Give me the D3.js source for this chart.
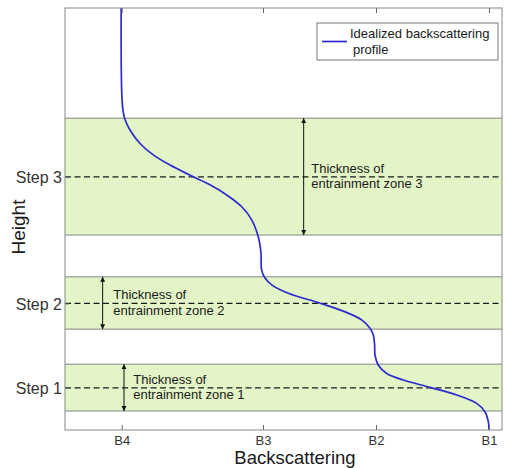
<!DOCTYPE html>
<html><head><meta charset="utf-8">
<script src="https://cdn.jsdelivr.net/npm/d3@7/dist/d3.min.js"></script>
<style>body{margin:0;background:#fff}svg{display:block;font-family:"Liberation Sans",Arial,sans-serif}</style>
</head><body>
<svg id="c" width="506" height="468"></svg>
<script>
// ---- data ----
const xTickLabels = ["B4", "B3", "B2", "B1"];
const xTickValues = [4.25, 3, 2, 1];
const yTickLabels = ["Step 1", "Step 2", "Step 3"];
const stepHeights = [100, 300, 600];
const zoneBottoms = [45, 239, 462];
const zoneTops = [156, 363, 739];
const zoneLabels1 = ["Thickness of", "Thickness of", "Thickness of"];
const zoneLabels2 = ["entrainment zone 1", "entrainment zone 2", "entrainment zone 3"];
const profileH = [1000, 900, 800, 760, 739, 711, 679, 652, 628, 602, 581, 557, 529, 498, 458, 420, 379, 360, 344, 324, 302, 280, 261, 241, 225, 200, 178, 154, 134, 118.5, 101, 83, 63, 43, 20, 0];
const profileB = [4.255, 4.255, 4.25, 4.24, 4.225, 4.177, 4.088, 3.971, 3.823, 3.631, 3.469, 3.321, 3.188, 3.10, 3.042, 3.018, 3.012, 2.982, 2.923, 2.776, 2.511, 2.274, 2.127, 2.053, 2.024, 2.012, 2.009, 1.98, 1.905, 1.758, 1.522, 1.286, 1.109, 1.035, 1.006, 1.0];
const legendLabel = ["Idealized backscattering", "profile"];
// annotation placement (data units)
const arrowB = [4.23, 4.419, 2.64];
const labelB = [4.148, 4.325, 2.573];

const svg = d3.select("#c");
const L = 65, T = 8, R = 502, B = 430;
const x = d3.scaleLinear().domain([4.752, 0.885]).range([L, R]);
const y = d3.scaleLinear().domain([0, 1000]).range([B, T]);

svg.append("rect").attr("width", 506).attr("height", 468).attr("fill", "#fff");

// bands
const zones = zoneBottoms.map((b, i) => ({b, t: zoneTops[i], s: stepHeights[i], i}));
svg.selectAll("rect.band").data(zones).join("rect").attr("class", "band")
  .attr("x", L).attr("width", R - L)
  .attr("y", d => y(d.t)).attr("height", d => y(d.b) - y(d.t))
  .attr("fill", "#e3f5c6");
zones.forEach(z => {
  [z.b, z.t].forEach(v => {
    svg.append("line").attr("x1", L).attr("x2", R).attr("y1", y(v)).attr("y2", y(v))
      .attr("stroke", "#858585").attr("stroke-width", 1);
  });
  svg.append("line").attr("x1", L).attr("x2", R).attr("y1", y(z.s)).attr("y2", y(z.s))
    .attr("stroke", "#1a1a1a").attr("stroke-width", 1.3).attr("stroke-dasharray", "6,3.5");
});

// arrows
const defs = svg.append("defs");
defs.append("marker").attr("id", "ah").attr("viewBox", "0 0 10 10").attr("refX", 10).attr("refY", 5)
  .attr("markerWidth", 5).attr("markerHeight", 7).attr("markerUnits", "userSpaceOnUse").attr("orient", "auto-start-reverse")
  .append("path").attr("d", "M0,0 L10,5 L0,10 Z").attr("fill", "#111");
zones.forEach((z, i) => {
  svg.append("line").attr("x1", x(arrowB[i])).attr("x2", x(arrowB[i]))
    .attr("y1", y(z.t)).attr("y2", y(z.b))
    .attr("stroke", "#111").attr("stroke-width", 1)
    .attr("marker-start", "url(#ah)").attr("marker-end", "url(#ah)");
  const tx = svg.append("text").attr("x", x(labelB[i])).attr("y", y(z.s) - 4)
    .attr("font-size", 13).attr("fill", "#1a1a1a");
  tx.append("tspan").attr("x", x(labelB[i])).text(zoneLabels1[i]);
  tx.append("tspan").attr("x", x(labelB[i])).attr("dy", 15.5).text(zoneLabels2[i]);
});

// profile curve
const pts = profileH.map((h, i) => [profileB[i], h]);
svg.append("path").datum(pts)
  .attr("d", d3.line().x(d => x(d[0])).y(d => y(d[1])).curve(d3.curveCatmullRom.alpha(0.5)))
  .attr("fill", "none").attr("stroke", "#2b2bd0").attr("stroke-width", 1.7);

// axes
const gx = svg.append("g").attr("transform", `translate(0,${B})`)
  .call(d3.axisBottom(x).tickValues(xTickValues).tickFormat((d, i) => xTickLabels[i]).tickSize(-5).tickPadding(6));
const gxt = svg.append("g").attr("transform", `translate(0,${T})`)
  .call(d3.axisTop(x).tickValues(xTickValues).tickFormat("").tickSize(-5));
const gy = svg.append("g").attr("transform", `translate(${L},0)`)
  .call(d3.axisLeft(y).tickValues(stepHeights).tickFormat((d, i) => yTickLabels[i]).tickSize(-4).tickPadding(3));
[gx, gxt, gy].forEach(g => {
  g.select(".domain").remove();
  g.selectAll(".tick line").attr("stroke", "#666");
  g.selectAll("text").attr("fill", "#333").attr("font-family", "Liberation Sans, Arial, sans-serif");
});
gx.selectAll("text").attr("font-size", 13);
gy.selectAll("text").attr("font-size", 16).attr("dy", "0.36em");

svg.append("rect").attr("x", L).attr("y", T).attr("width", R - L).attr("height", B - T)
  .attr("fill", "none").attr("stroke", "#888").attr("stroke-width", 1);

// axis titles
svg.append("text").attr("x", 295).attr("y", 464).attr("text-anchor", "middle")
  .attr("font-size", 18.5).attr("fill", "#1a1a1a").text("Backscattering");
svg.append("text").attr("transform", "translate(25,227) rotate(-90)").attr("text-anchor", "middle")
  .attr("font-size", 19).attr("fill", "#1a1a1a").text("Height");

// legend
const lg = svg.append("g");
lg.append("rect").attr("x", 317).attr("y", 23).attr("width", 181).attr("height", 37)
  .attr("fill", "#fff").attr("stroke", "#777").attr("stroke-width", 1);
lg.append("line").attr("x1", 322).attr("x2", 347).attr("y1", 41.5).attr("y2", 41.5)
  .attr("stroke", "#2b2bd0").attr("stroke-width", 1.7);
lg.append("text").attr("x", 350).attr("y", 38).attr("font-size", 13).attr("fill", "#1a1a1a").text(legendLabel[0]);
lg.append("text").attr("x", 353).attr("y", 54).attr("font-size", 13).attr("fill", "#1a1a1a").text(legendLabel[1]);
</script>
</body></html>
